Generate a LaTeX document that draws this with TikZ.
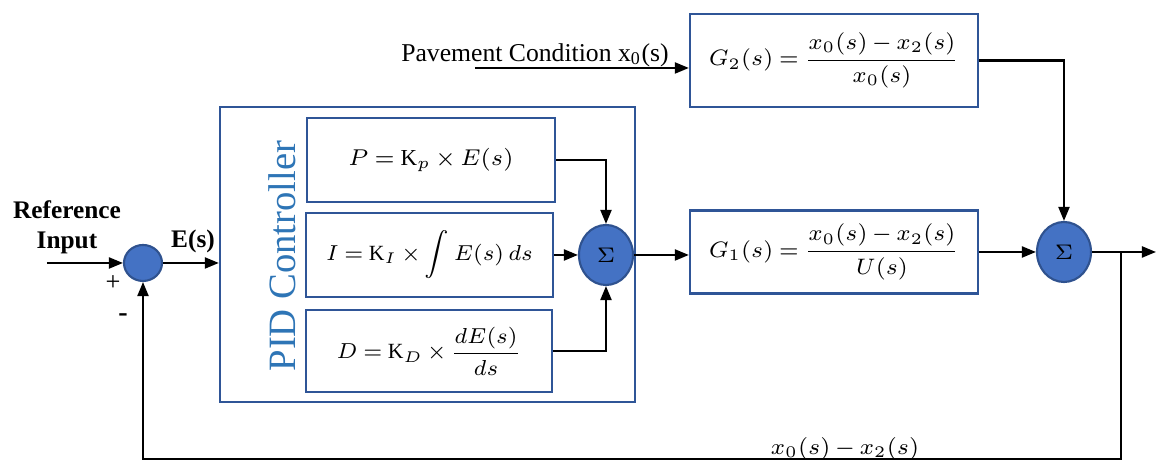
\documentclass[tikz,border=0pt]{standalone}
\usepackage{amsmath}
\usepackage{graphicx}
\usepackage{fontspec}
\setmainfont{Liberation Serif}
\usetikzlibrary{arrows.meta,positioning,shapes.geometric}
\definecolor{sumblue}{HTML}{4472C4}
\definecolor{sumedge}{HTML}{2F528F}
\definecolor{boxedge}{HTML}{2F5597}
\definecolor{pidtext}{HTML}{2E75B6}
\thickmuskip=4mu plus 2mu
\medmuskip=3mu plus 1mu
\newcommand{\shrunk}[2]{\scalebox{#1}{$\displaystyle #2$}}

\begin{document}
\begin{tikzpicture}[x=0.01cm,y=-0.01cm,every node/.style={font=\fontsize{7.5}{9}\selectfont},
  blk/.style={draw=boxedge,line width=.6pt,inner sep=0pt,font=\fontsize{7}{8}\selectfont},
  sumnode/.style={ellipse,draw=sumedge,fill=sumblue,line width=.6pt,inner sep=0pt,font=\fontsize{6}{7}\selectfont},
  flow/.style={line width=.6pt,-{Triangle[length=1.4mm,width=1.1mm]}}]
\useasboundingbox (0,0) rectangle (1156,462);
% blocks
\node[blk,minimum width=4.15cm,minimum height=2.95cm] (pid) at (427.5,254.5) {};
\node[blk,minimum width=2.48cm,minimum height=0.84cm] (P) at (431,160) {\shrunk{0.93}{P=\mathrm{K}_p\times E(s)}};
\node[blk,minimum width=2.47cm,minimum height=0.84cm] (I) at (429.5,255) {\shrunk{0.88}{I=\mathrm{K}_I\times\int E(s)\,ds}};
\node[blk,minimum width=2.46cm,minimum height=0.82cm] (D) at (429,351) {\shrunk{0.88}{D=\mathrm{K}_D\times\frac{dE(s)}{ds}}};
\node[blk,minimum width=2.88cm,minimum height=0.83cm] (G1) at (834,252) {\shrunk{0.91}{G_1(s)=\frac{x_0(s)-x_2(s)}{U(s)}}};
\node[blk,minimum width=2.88cm,minimum height=0.93cm] (G2) at (834,60.5) {\shrunk{0.91}{G_2(s)=\frac{x_0(s)-x_2(s)}{x_0(s)}}};
\node[rotate=90,text=pidtext,font=\fontsize{11}{13}\selectfont] (pidlbl) at (282,256) {PID Controller};
% summing junctions
\node[sumnode,minimum width=0.38cm,minimum height=0.36cm] (s1) at (143,263) {};
\node[sumnode,minimum width=0.54cm,minimum height=0.60cm] (s2) at (606,255) {$\Sigma$};
\node[sumnode,minimum width=0.54cm,minimum height=0.60cm] (s3) at (1064,252) {$\Sigma$};
% labels
\node[font=\fontsize{7.2}{8.6}\selectfont\bfseries,align=center] (ref) at (67,227) {Reference\\Input};
\node[font=\fontsize{7.2}{9}\selectfont\bfseries] (es) at (193,241) {E(s)};
\node (plus) at (113,283) {+};
\node[font=\fontsize{8}{9}\selectfont\bfseries] (minus) at (123,318) {-};
\node[font=\fontsize{7.3}{9}\selectfont] (pav) at (535,55) {Pavement Condition x\textsubscript{0}(s)};
\node[font=\fontsize{7}{8}\selectfont] (fb) at (845,449) {\shrunk{0.92}{x_0(s)-x_2(s)}};
\coordinate (in) at (47,263);
\coordinate (pavin) at (475,68);
\coordinate (out) at (1156,252);
\coordinate (br) at (1121,252);
\coordinate (fbr) at (1121,459);
% connectors
\draw[flow] (in) -- (s1.west);
\draw[flow] (s1.east) -- (s1.east -| pid.west);
\draw[flow] (P.east) -| (s2.north);
\draw[flow] (I.east) -- (I.east -| s2.west);
\draw[flow] (D.east) -| (s2.south);
\draw[flow] (s2.east) -- (s2.east -| G1.west);
\draw[flow] (pavin) -- (pavin -| G2.west);
\draw[flow] (G2.east) -| (s3.north);
\draw[flow] (G1.east) -- (G1.east -| s3.west);
\draw[flow] (s3.east) -- (out);
\draw[flow] (br) -- (fbr) -| (s1.south);
\end{tikzpicture}
\end{document}
